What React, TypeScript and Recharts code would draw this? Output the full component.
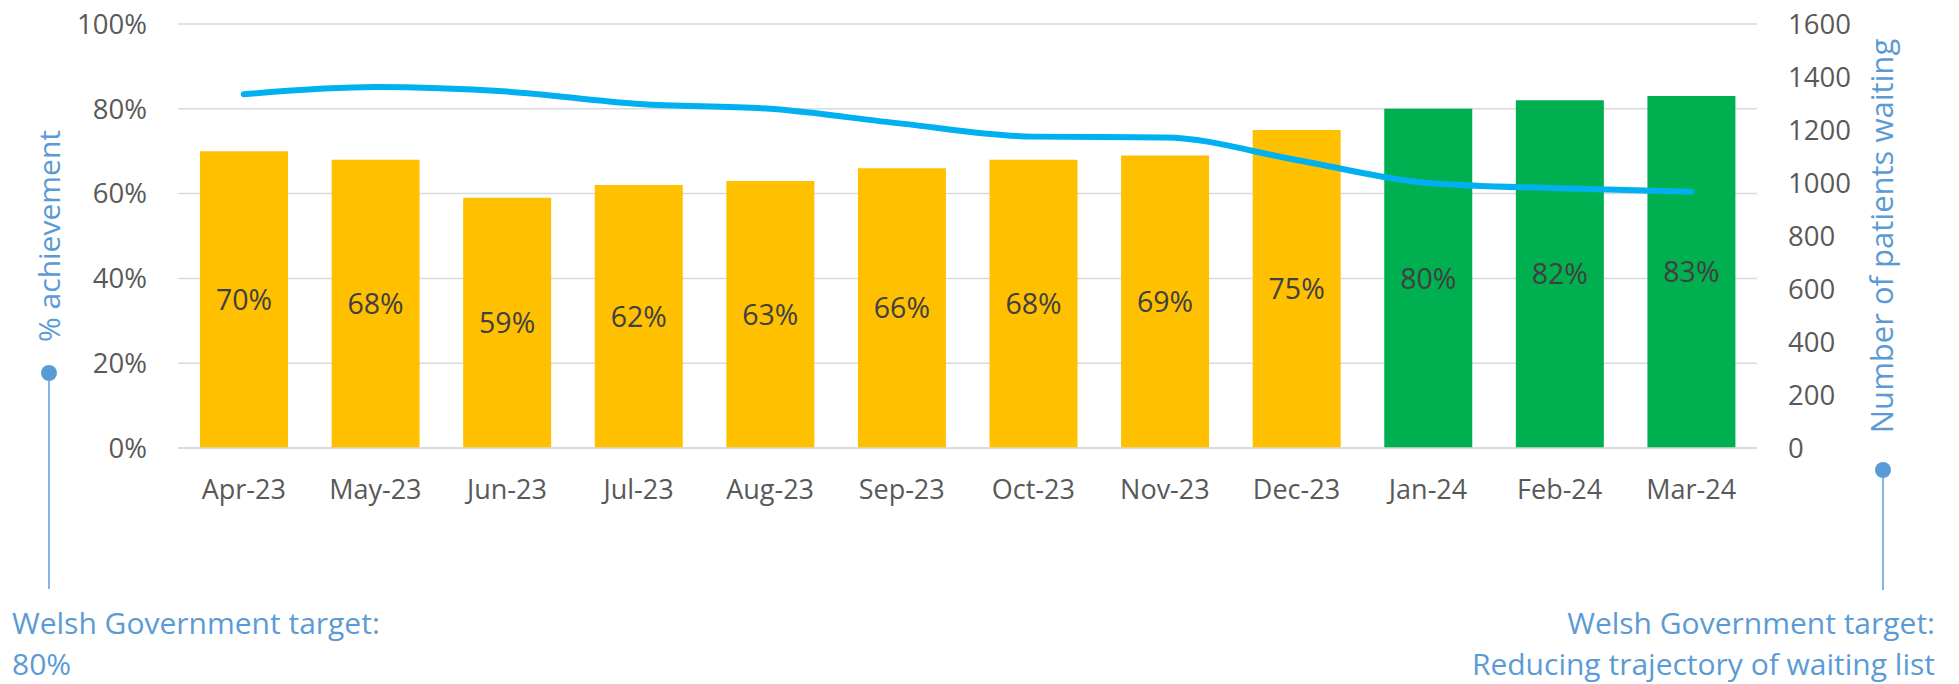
import { ComposedChart, Bar, Line, XAxis, YAxis, CartesianGrid, Cell, LabelList } from 'recharts'

const months = ['Apr-23', 'May-23', 'Jun-23', 'Jul-23', 'Aug-23', 'Sep-23', 'Oct-23', 'Nov-23', 'Dec-23', 'Jan-24', 'Feb-24', 'Mar-24']
const achievement = [70, 68, 59, 62, 63, 66, 68, 69, 75, 80, 82, 83]
const waiting = [1335, 1362, 1345, 1298, 1280, 1224, 1175, 1172, 1087, 1000, 980, 967]
const pctTicks = [0, 20, 40, 60, 80, 100]
const countTicks = [0, 200, 400, 600, 800, 1000, 1200, 1400, 1600]
const target = 80

const data = months.map((m, i) => ({ month: m, pct: achievement[i], waiting: waiting[i] }))

const FONT = '"Open Sans", "Noto Sans", sans-serif'
const GREY = '#595959'
const BLUE_TXT = '#5B9BD5'

export default function App() {
    return (
        <div style={{ position: 'absolute', left: 0, top: 0, width: 1959, height: 684, background: '#fff', fontFamily: FONT }}>
            <ComposedChart width={1959} height={684} data={data} margin={{ top: 24, right: 0, bottom: 0, left: 0 }}>
                <CartesianGrid yAxisId="left" vertical={false} stroke="#D9D9D9" strokeWidth={1.5} />
                <XAxis
                    dataKey="month"
                    axisLine={{ stroke: '#D9D9D9', strokeWidth: 1.5 }}
                    tickLine={false}
                    tickMargin={26}
                    tick={{ fill: GREY, fontSize: 27, fontFamily: FONT }}
                    interval={0}
                    height={236}
                />
                <YAxis
                    yAxisId="left"
                    width={178}
                    domain={[0, 100]}
                    ticks={pctTicks}
                    tickFormatter={(v) => `${v}%`}
                    axisLine={false}
                    tickLine={false}
                    tickMargin={25}
                    interval={0}
                    tick={{ fill: GREY, fontSize: 27.5, fontFamily: FONT }}
                />
                <YAxis
                    yAxisId="right"
                    orientation="right"
                    width={202}
                    domain={[0, 1600]}
                    ticks={countTicks}
                    axisLine={false}
                    tickLine={false}
                    tickMargin={25}
                    interval={0}
                    tick={{ fill: GREY, fontSize: 27.5, fontFamily: FONT }}
                />
                <Bar yAxisId="left" dataKey="pct" barSize={88} isAnimationActive={false}>
                    {data.map((d, i) => (
                        <Cell key={i} fill={d.pct >= target ? '#00B050' : '#FFC000'} />
                    ))}
                    <LabelList
                        dataKey="pct"
                        position="center"
                        formatter={(v: any) => `${v}%`}
                        style={{ fill: '#404040', fontSize: 28.5, fontFamily: FONT }}
                    />
                </Bar>
                <Line
                    yAxisId="right"
                    type="monotone"
                    dataKey="waiting"
                    stroke="#00B0F0"
                    strokeWidth={6}
                    strokeLinecap="round"
                    dot={false}
                    activeDot={false}
                    isAnimationActive={false}
                />
            </ComposedChart>
            <svg width={1959} height={684} style={{ position: 'absolute', left: 0, top: 0, pointerEvents: 'none' }}>
                <g fontFamily={FONT} fill={BLUE_TXT}>
                    <text x={49} y={236} dy="0.35em" fontSize={30} textAnchor="middle" transform="rotate(-90 49 236)">% achievement</text>
                    <text x={1882} y={236} dy="0.35em" fontSize={31} textAnchor="middle" transform="rotate(-90 1882 236)">Number of patients waiting</text>
                    <line x1={49} y1={373} x2={49} y2={589} stroke={BLUE_TXT} strokeWidth={1.5} />
                    <circle cx={49} cy={373} r={8} />
                    <line x1={1883} y1={470} x2={1883} y2={590} stroke={BLUE_TXT} strokeWidth={1.5} />
                    <circle cx={1883} cy={470} r={8} />
                    <text x={12} y={634} fontSize={30}>Welsh Government target:</text>
                    <text x={12} y={675} fontSize={30}>{`${target}%`}</text>
                    <text x={1935} y={634} fontSize={30} textAnchor="end">Welsh Government target:</text>
                    <text x={1935} y={675} fontSize={30} textAnchor="end">Reducing trajectory of waiting list</text>
                </g>
            </svg>
        </div>
    )
}
